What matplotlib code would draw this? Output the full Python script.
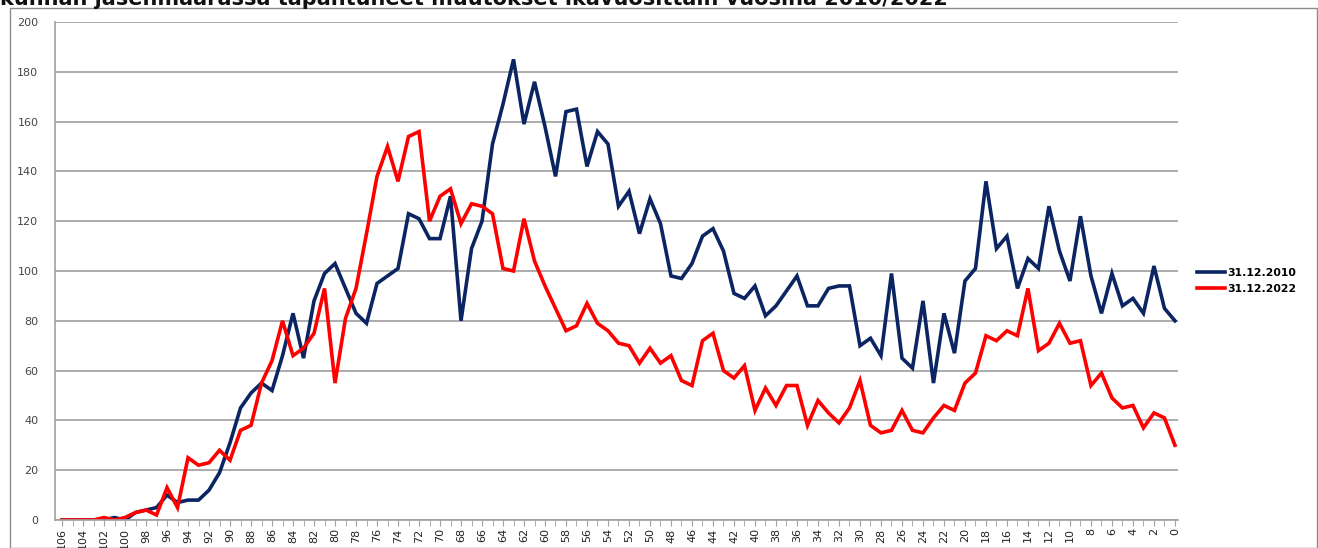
import matplotlib
matplotlib.use("Agg")
import matplotlib.pyplot as plt
from matplotlib.patches import Rectangle
from matplotlib.ticker import MultipleLocator

ages = list(range(106, -1, -1))

s2010 = [0, 0, 0, 0, 0, 1, 0, 3, 4, 5, 10, 7, 8, 8, 12, 19, 31, 45, 51, 55,
         52, 66, 83, 65, 88, 99, 103, 93, 83, 79, 95, 98, 101, 123, 121, 113, 113, 130, 80, 109,
         120, 151, 167, 185, 159, 176, 158, 138, 164, 165, 142, 156, 151, 126, 132, 115, 129, 119, 98, 97,
         103, 114, 117, 108, 91, 89, 94, 82, 86, 92, 98, 86, 86, 93, 94, 94, 70, 73, 66, 99,
         65, 61, 88, 55, 83, 67, 96, 101, 136, 109, 114, 93, 105, 101, 126, 108, 96, 122, 98, 83,
         99, 86, 89, 83, 102, 85, 80]

s2022 = [0, 0, 0, 0, 1, 0, 1, 3, 4, 2, 13, 5, 25, 22, 23, 28, 24, 36, 38, 55,
         64, 80, 66, 69, 75, 93, 55, 81, 93, 115, 138, 150, 136, 154, 156, 120, 130, 133, 119, 127,
         126, 123, 101, 100, 121, 104, 94, 85, 76, 78, 87, 79, 76, 71, 70, 63, 69, 63, 66, 56,
         54, 72, 75, 60, 57, 62, 44, 53, 46, 54, 54, 38, 48, 43, 39, 45, 56, 38, 35, 36,
         44, 36, 35, 41, 46, 44, 55, 59, 74, 72, 76, 74, 93, 68, 71, 79, 71, 72, 54, 59,
         49, 45, 46, 37, 43, 41, 30]

series_labels = ["31.12.2010", "31.12.2022"]
title_text = "kunnan jäsenmäärässä tapahtuneet muutokset ikävuosittain vuosina 2010/2022"
yticks = list(range(0, 201, 20))

W, H = 1318, 548
fig = plt.figure(figsize=(W / 100, H / 100), dpi=100)
fig.patch.set_facecolor("white")

# outer chart border
fig.patches.append(Rectangle((10 / W, 0), (W - 11) / W, 1 - 8 / H,
                             transform=fig.transFigure, fill=False,
                             edgecolor="#8c8c8c", linewidth=1.0))

fig.text(0 / W, 1 - 5 / H, title_text, fontsize=15, fontweight="bold",
         color="#111111", ha="left", va="baseline", family="DejaVu Sans")

ax = fig.add_axes([55 / W, 1 - 520 / H, (1178 - 55) / W, (520 - 22) / H])

ax.plot(ages, s2010, color="#0b2462", linewidth=2.6, label=series_labels[0],
        solid_joinstyle="miter")
ax.plot(ages, s2022, color="#ff0000", linewidth=2.6, label=series_labels[1],
        solid_joinstyle="miter")

ax.set_xlim(106.67, -0.29)
ax.set_ylim(0, 200)
ax.set_yticks(yticks)
ax.set_xticks(list(range(106, -1, -2)))
ax.xaxis.set_minor_locator(MultipleLocator(1))
ax.grid(axis="y", color="#a6a6a6", linewidth=1.3)
ax.set_axisbelow(True)

for side in ["top", "right"]:
    ax.spines[side].set_visible(False)
for side in ["left", "bottom"]:
    ax.spines[side].set_color("#a0a0a0")
    ax.spines[side].set_linewidth(1.2)

ax.tick_params(axis="x", which="both", direction="out", length=4, color="#a0a0a0",
               labelsize=8, labelrotation=90, labelcolor="#222222", pad=2)
ax.tick_params(axis="y", which="both", length=0, labelsize=8,
               labelcolor="#444444", pad=12)

leg = fig.legend(loc="center left", bbox_to_anchor=(1187 / W, 1 - 281 / H),
                 frameon=False, handlelength=2.6, handletextpad=0.25,
                 labelspacing=0.6, prop={"weight": "bold", "size": 7.8})
for line in leg.get_lines():
    line.set_linewidth(2.6)

fig.savefig("out.png", dpi=100, facecolor="white")
